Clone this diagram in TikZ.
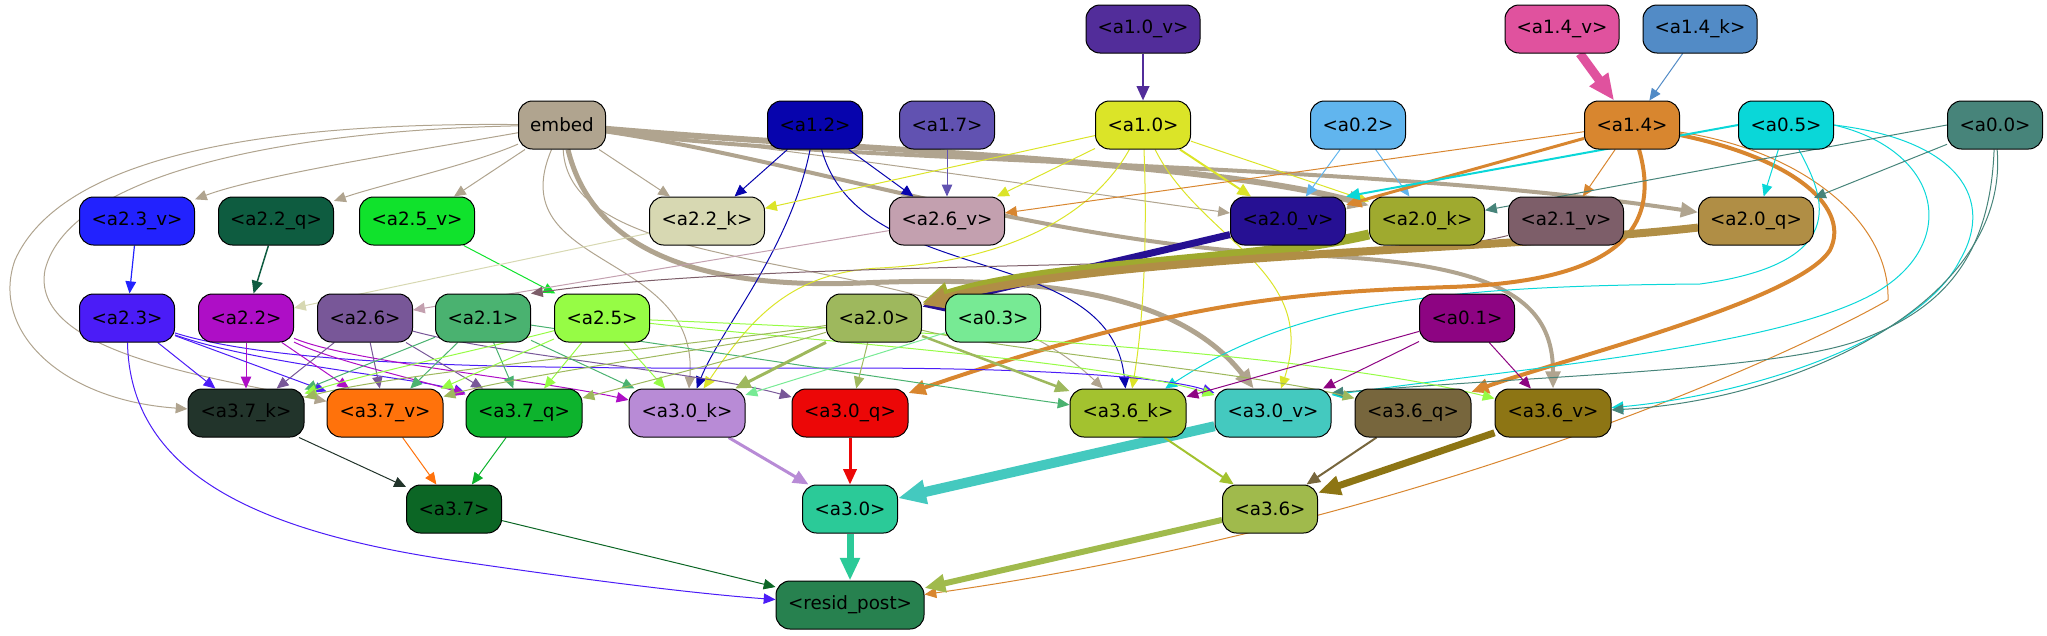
\documentclass[tikz,border=0pt]{standalone}
\usepackage{fontspec}
\setmainfont{DejaVu Sans}
\usetikzlibrary{arrows.meta}
\pgfdeclarelayer{bg}
\pgfsetlayers{bg,main}
\definecolor{cA10v}{HTML}{522D9A}
\definecolor{cA14v}{HTML}{E0529E}
\definecolor{cA14k}{HTML}{528BC6}
\definecolor{cEmb}{HTML}{B0A48F}
\definecolor{cA12}{HTML}{0704AD}
\definecolor{cA17}{HTML}{6152B1}
\definecolor{cA10}{HTML}{DBE428}
\definecolor{cA02}{HTML}{61B5EE}
\definecolor{cA14}{HTML}{D8862F}
\definecolor{cA05}{HTML}{0AD7D8}
\definecolor{cA00}{HTML}{47847A}
\definecolor{cA23v}{HTML}{2222FE}
\definecolor{cA22q}{HTML}{0E5C40}
\definecolor{cA25v}{HTML}{10E22C}
\definecolor{cA22k}{HTML}{D7D8B2}
\definecolor{cA26v}{HTML}{C3A0AF}
\definecolor{cA20v}{HTML}{261093}
\definecolor{cA20k}{HTML}{9FAA2F}
\definecolor{cA21v}{HTML}{7D5E69}
\definecolor{cA20q}{HTML}{B08E45}
\definecolor{cA23}{HTML}{4B1CF7}
\definecolor{cA22}{HTML}{AE0EC6}
\definecolor{cA26}{HTML}{785798}
\definecolor{cA21}{HTML}{4AB270}
\definecolor{cA25}{HTML}{96FC45}
\definecolor{cA20}{HTML}{9EB85D}
\definecolor{cA03}{HTML}{77EA94}
\definecolor{cA01}{HTML}{8D0482}
\definecolor{cA37k}{HTML}{22342B}
\definecolor{cA37v}{HTML}{FF720B}
\definecolor{cA37q}{HTML}{0DB32D}
\definecolor{cA30k}{HTML}{B88BD6}
\definecolor{cA30q}{HTML}{EC0707}
\definecolor{cA36k}{HTML}{A3C22F}
\definecolor{cA30v}{HTML}{44C9BF}
\definecolor{cA36q}{HTML}{77663D}
\definecolor{cA36v}{HTML}{8D7514}
\definecolor{cA37}{HTML}{0C6625}
\definecolor{cA30}{HTML}{2BCA98}
\definecolor{cA36}{HTML}{A0BA4C}
\definecolor{cRes}{HTML}{27814F}
\begin{document}
\begin{tikzpicture}[x=1pt,y=-1pt,
  nd/.style={draw=black,line width=1pt,rounded corners=14pt,minimum height=48pt,inner sep=0pt,text=black,font=\fontsize{18.3pt}{22pt}\selectfont},
  ed/.style={draw=#1,line width=1pt,-{Triangle[length=10pt 1.8,width=9pt 1.4]}}]
\useasboundingbox (0,0) rectangle (2047,635);
% row 0
\node[nd,fill=cA10v,minimum width=114pt] (a10v) at (1143,29) {<a1.0\_v>};
\node[nd,fill=cA14v,minimum width=114pt] (a14v) at (1562,29) {<a1.4\_v>};
\node[nd,fill=cA14k,minimum width=114pt] (a14k) at (1700,29) {<a1.4\_k>};
% row 1
\node[nd,fill=cEmb,minimum width=87pt] (embed) at (562,125) {embed};
\node[nd,fill=cA12,minimum width=95pt] (a12) at (815,125) {<a1.2>};
\node[nd,fill=cA17,minimum width=95pt] (a17) at (947,125) {<a1.7>};
\node[nd,fill=cA10,minimum width=95pt] (a10) at (1143,125) {<a1.0>};
\node[nd,fill=cA02,minimum width=95pt] (a02) at (1358,125) {<a0.2>};
\node[nd,fill=cA14,minimum width=95pt] (a14) at (1632,125) {<a1.4>};
\node[nd,fill=cA05,minimum width=95pt] (a05) at (1786,125) {<a0.5>};
\node[nd,fill=cA00,minimum width=95pt] (a00) at (1995,125) {<a0.0>};
% row 2
\node[nd,fill=cA23v,minimum width=115pt] (a23v) at (137,221) {<a2.3\_v>};
\node[nd,fill=cA22q,minimum width=115pt] (a22q) at (276,221) {<a2.2\_q>};
\node[nd,fill=cA25v,minimum width=115pt] (a25v) at (417,221) {<a2.5\_v>};
\node[nd,fill=cA22k,minimum width=115pt] (a22k) at (707,221) {<a2.2\_k>};
\node[nd,fill=cA26v,minimum width=115pt] (a26v) at (947,221) {<a2.6\_v>};
\node[nd,fill=cA20v,minimum width=115pt] (a20v) at (1288,221) {<a2.0\_v>};
\node[nd,fill=cA20k,minimum width=115pt] (a20k) at (1427,221) {<a2.0\_k>};
\node[nd,fill=cA21v,minimum width=115pt] (a21v) at (1566,221) {<a2.1\_v>};
\node[nd,fill=cA20q,minimum width=115pt] (a20q) at (1756,221) {<a2.0\_q>};
% row 3
\node[nd,fill=cA23,minimum width=95pt] (a23) at (127,318) {<a2.3>};
\node[nd,fill=cA22,minimum width=95pt] (a22) at (246,318) {<a2.2>};
\node[nd,fill=cA26,minimum width=95pt] (a26) at (365,318) {<a2.6>};
\node[nd,fill=cA21,minimum width=95pt] (a21) at (483,318) {<a2.1>};
\node[nd,fill=cA25,minimum width=95pt] (a25) at (602,318) {<a2.5>};
\node[nd,fill=cA20,minimum width=95pt] (a20) at (874,318) {<a2.0>};
\node[nd,fill=cA03,minimum width=95pt] (a03) at (993,318) {<a0.3>};
\node[nd,fill=cA01,minimum width=95pt] (a01) at (1467,318) {<a0.1>};
% row 4
\node[nd,fill=cA37k,minimum width=116pt] (a37k) at (246,413) {<a3.7\_k>};
\node[nd,fill=cA37v,minimum width=116pt] (a37v) at (385,413) {<a3.7\_v>};
\node[nd,fill=cA37q,minimum width=116pt] (a37q) at (524,413) {<a3.7\_q>};
\node[nd,fill=cA30k,minimum width=116pt] (a30k) at (687,413) {<a3.0\_k>};
\node[nd,fill=cA30q,minimum width=116pt] (a30q) at (850,413) {<a3.0\_q>};
\node[nd,fill=cA36k,minimum width=116pt] (a36k) at (1128,413) {<a3.6\_k>};
\node[nd,fill=cA30v,minimum width=116pt] (a30v) at (1273,413) {<a3.0\_v>};
\node[nd,fill=cA36q,minimum width=116pt] (a36q) at (1413,413) {<a3.6\_q>};
\node[nd,fill=cA36v,minimum width=116pt] (a36v) at (1553,413) {<a3.6\_v>};
% row 5
\node[nd,fill=cA37,minimum width=95pt] (a37) at (454,509) {<a3.7>};
\node[nd,fill=cA30,minimum width=95pt] (a30) at (850,509) {<a3.0>};
\node[nd,fill=cA36,minimum width=95pt] (a36) at (1270,509) {<a3.6>};
% row 6
\node[nd,fill=cRes,minimum width=148pt] (resid) at (850,605) {<resid\_post>};

\begin{pgfonlayer}{bg}
% top
\draw[ed=cA10v,line width=2.5pt] (a10v) -- (a10);
\draw[ed=cA14v,line width=9pt] (a14v) -- (a14);
\draw[ed=cA14k] (a14k) -- (a14);
% embed
\draw[ed=cEmb] (embed) .. controls (420,150) and (260,175) .. (a23v);
\draw[ed=cEmb] (embed) .. controls (470,165) and (380,185) .. (a22q);
\draw[ed=cEmb] (embed) -- (a25v);
\draw[ed=cEmb] (embed) -- (a22k);
\draw[ed=cEmb] (embed) .. controls (800,150) and (1100,195) .. (a20v);
\draw[ed=cEmb,line width=6pt] (embed) .. controls (850,150) and (1200,160) .. (a20k);
\draw[ed=cEmb,line width=4pt] (embed) .. controls (850,165) and (1350,160) .. (a20q);
\draw[ed=cEmb,line width=4pt] (embed) .. controls (800,160) and (1050,245) .. (1300,255) .. controls (1500,262) and (1553,300) .. (a36v);
\draw[ed=cEmb,line width=5pt] (embed) .. controls (590,240) and (680,290) .. (860,283) .. controls (1050,275) and (1180,295) .. (a30v);
\draw[ed=cEmb] (embed) .. controls (500,270) and (700,250) .. (a30k);
\draw[ed=cEmb] (embed) .. controls (570,290) and (950,240) .. (a36k);
\draw[ed=cEmb] (embed) .. controls (250,122) and (60,160) .. (15,260) .. controls (-10,330) and (60,400) .. (a37k);
\draw[ed=cEmb] (embed) .. controls (300,130) and (70,170) .. (45,270) .. controls (30,350) and (200,376) .. (a37v);
% a1.2
\draw[ed=cA12] (a12) -- (a22k);
\draw[ed=cA12] (a12) -- (a26v);
\draw[ed=cA12] (a12) .. controls (790,250) and (720,330) .. (a30k);
\draw[ed=cA12] (a12) .. controls (860,290) and (1110,240) .. (a36k);
% a1.7
\draw[ed=cA17] (a17) -- (a26v);
% a1.0
\draw[ed=cA10] (a10) -- (a22k);
\draw[ed=cA10] (a10) -- (a26v);
\draw[ed=cA10,line width=2pt] (a10) -- (a20v);
\draw[ed=cA10] (a10) -- (a20k);
\draw[ed=cA10] (a10) .. controls (1090,220) and (1000,262) .. (880,268) .. controls (790,272) and (750,320) .. (a30k);
\draw[ed=cA10] (a10) .. controls (1148,250) and (1142,330) .. (a36k);
\draw[ed=cA10] (a10) .. controls (1200,240) and (1320,270) .. (a30v);
% a0.2
\draw[ed=cA02] (a02) -- (a20v);
\draw[ed=cA02] (a02) -- (a20k);
% a1.4
\draw[ed=cA14] (a14) -- (a26v);
\draw[ed=cA14,line width=3pt] (a14) -- (a20v);
\draw[ed=cA14] (a14) -- (a21v);
\draw[ed=cA14,line width=4pt] (a14) .. controls (1665,240) and (1600,282) .. (1450,287) .. controls (1300,292) and (1180,300) .. (a30q);
\draw[ed=cA14,line width=4pt] (a14) .. controls (1800,160) and (1850,210) .. (1830,250) .. controls (1800,300) and (1560,360) .. (a36q);
\draw[ed=cA14] (a14) .. controls (1800,150) and (1890,220) .. (1888,300) .. controls (1820,340) and (1450,520) .. (resid);
% a0.5
\draw[ed=cA05,line width=2pt] (a05.west) -- (a20v.north east);
\draw[ed=cA05] (a05) -- (a20q);
\draw[ed=cA05] (a05) .. controls (1820,190) and (1860,262) .. (1700,284) .. controls (1450,286) and (1300,300) .. (a36k);
\draw[ed=cA05] (a05.east) .. controls (1960,140) and (1995,200) .. (1960,260) .. controls (1920,340) and (1750,395) .. (a36v);
\draw[ed=cA05] (a05.east) .. controls (1940,150) and (1960,240) .. (1880,290) .. controls (1790,345) and (1550,365) .. ([yshift=18pt]a30v.east);
% a0.0
\draw[ed=cA00] (a00.west) -- (a20k);
\draw[ed=cA00] (a00) -- (a20q);
\draw[ed=cA00] (a00) .. controls (1990,260) and (1940,310) .. (1860,340) .. controls (1780,370) and (1550,375) .. ([yshift=20pt]a30v.east);
\draw[ed=cA00] (a00) .. controls (2010,300) and (1800,400) .. (a36v);
% row 2 -> row 3
\draw[ed=cA23v,line width=1.2pt] (a23v) -- (a23);
\draw[ed=cA22q,line width=1.5pt] (a22q) -- (a22);
\draw[ed=cA25v] (a25v) -- (a25);
\draw[ed=cA22k] (a22k) -- (a22);
\draw[ed=cA26v] (a26v) -- (a26);
\draw[ed=cA21v] (a21v) .. controls (1350,275) and (800,255) .. (a21.north east);
\draw[ed=cA20v,line width=7pt] (a20v) -- (a20);
\draw[ed=cA20k,line width=10pt] (a20k) .. controls (1250,262) and (1050,262) .. (a20);
\draw[ed=cA20q,line width=8pt] (a20q) .. controls (1500,250) and (1100,255) .. (a20);
% a2.3
\draw[ed=cA23] (a23) -- (a37k);
\draw[ed=cA23] (a23) -- (a37v);
\draw[ed=cA23] (a23) .. controls (260,365) and (420,378) .. (a37q);
\draw[ed=cA23] (a23) .. controls (300,372) and (600,368) .. (850,368) .. controls (1050,368) and (1170,378) .. (a30v);
\draw[ed=cA23] (a23) .. controls (130,470) and (250,530) .. (450,560) .. controls (600,582) and (700,594) .. (resid);
% a2.2
\draw[ed=cA22] (a22) -- (a37k);
\draw[ed=cA22] (a22) -- (a37v);
\draw[ed=cA22] (a22) .. controls (330,360) and (420,380) .. (a37q);
\draw[ed=cA22] (a22) .. controls (350,362) and (540,380) .. (a30k);
% a2.6
\draw[ed=cA26] (a26) -- (a37k);
\draw[ed=cA26] (a26) -- (a37v);
\draw[ed=cA26] (a26) -- (a37q);
\draw[ed=cA26] (a26) .. controls (500,355) and (700,372) .. (a30q);
% a2.1
\draw[ed=cA21] (a21) -- (a37k);
\draw[ed=cA21] (a21) -- (a37v);
\draw[ed=cA21] (a21) -- (a37q);
\draw[ed=cA21] (a21) -- (a30k);
\draw[ed=cA21] (a21) .. controls (700,350) and (950,388) .. (a36k);
% a2.5
\draw[ed=cA25] (a25) .. controls (500,345) and (360,375) .. (a37k);
\draw[ed=cA25] (a25) -- (a37v);
\draw[ed=cA25] (a25) -- (a37q);
\draw[ed=cA25] (a25) -- (a30k);
\draw[ed=cA25] (a25) .. controls (800,340) and (1100,360) .. (a30v);
\draw[ed=cA25] (a25) .. controls (900,330) and (1300,350) .. (a36v);
% a2.0
\draw[ed=cA20] (a20) .. controls (700,345) and (400,372) .. (a37k);
\draw[ed=cA20] (a20) .. controls (720,348) and (520,375) .. (a37v);
\draw[ed=cA20] (a20) .. controls (760,352) and (660,378) .. (a37q);
\draw[ed=cA20,line width=3pt] (a20) -- (a30k);
\draw[ed=cA20] (a20) -- (a30q);
\draw[ed=cA20,line width=2.5pt] (a20) -- (a36k);
\draw[ed=cA20] (a20) .. controls (1000,350) and (1250,372) .. (a36q);
% a0.3, a0.1
\draw[ed=cA03] (a03) -- (a30k);
\draw[ed=cA01] (a01) -- (a36k);
\draw[ed=cA01] (a01) -- (a30v);
\draw[ed=cA01] (a01) -- (a36v);
% row 4 -> row 5
\draw[ed=cA37k] (a37k) -- (a37);
\draw[ed=cA37v] (a37v) -- (a37);
\draw[ed=cA37q] (a37q) -- (a37);
\draw[ed=cA30k,line width=3pt] (a30k) -- (a30);
\draw[ed=cA30q,line width=3pt] (a30q) -- (a30);
\draw[ed=cA30v,line width=10pt] (a30v) -- (a30);
\draw[ed=cA36k,line width=2pt] (a36k) -- (a36);
\draw[ed=cA36q,line width=2pt] (a36q) -- (a36);
\draw[ed=cA36v,line width=7pt] (a36v) -- (a36);
% to resid_post
\draw[ed=cA37] (a37) -- (resid);
\draw[ed=cA30,line width=7pt] (a30) -- (resid);
\draw[ed=cA36,line width=6pt] (a36) -- (resid);
\end{pgfonlayer}
\end{tikzpicture}
\end{document}
